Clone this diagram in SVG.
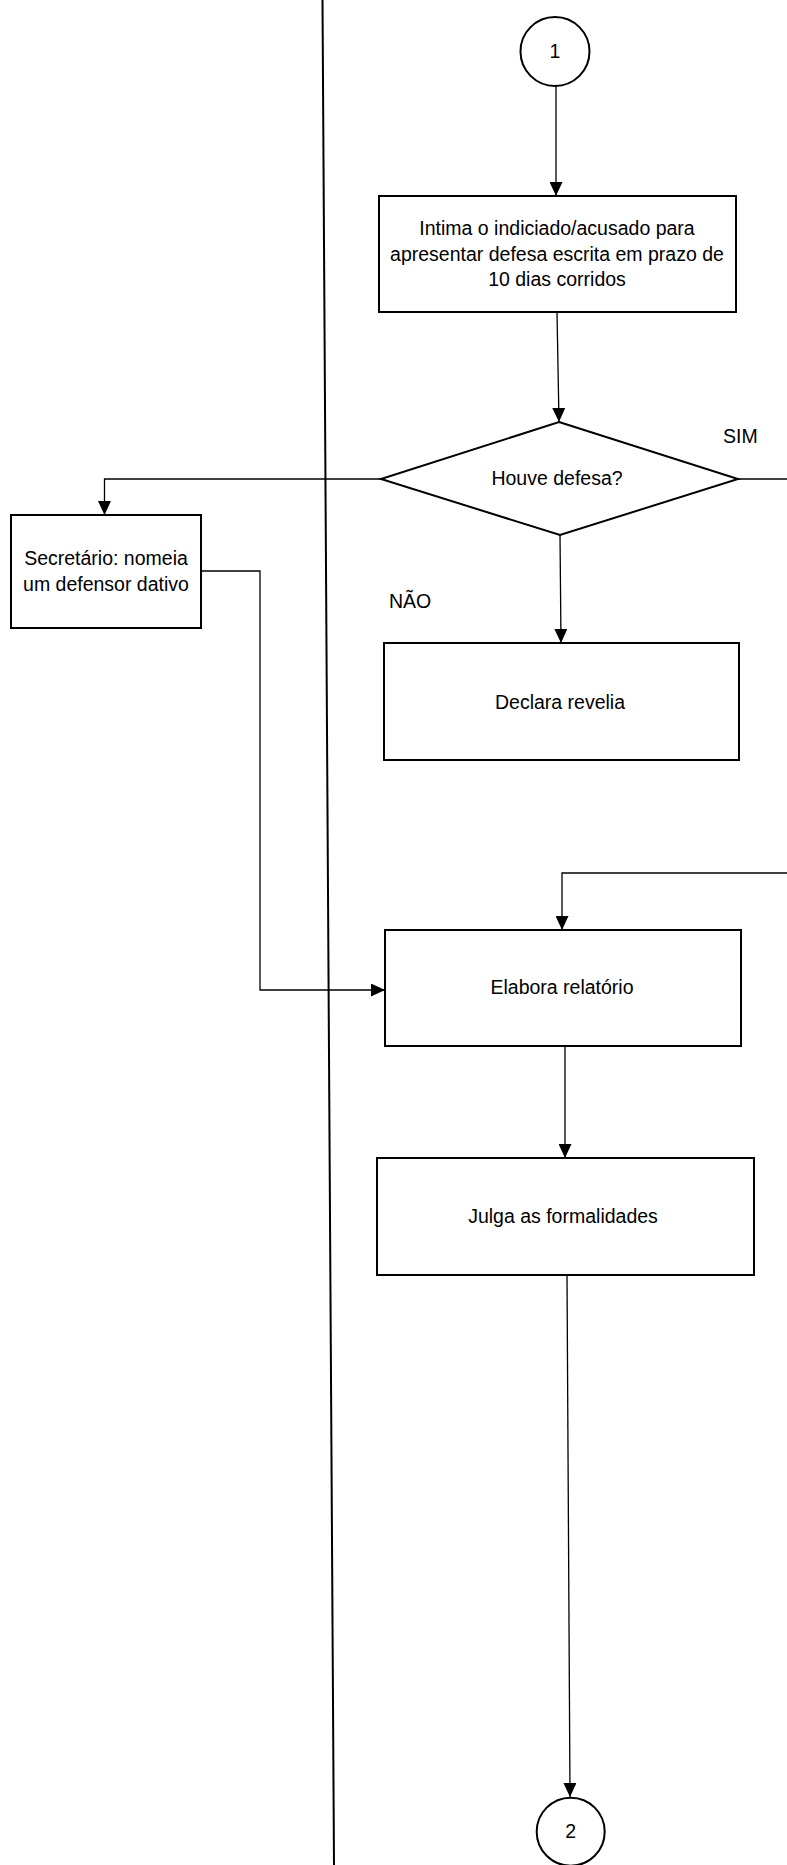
<svg xmlns="http://www.w3.org/2000/svg" width="787" height="1865" viewBox="0 0 787 1865">
<style>
.box{fill:#fff;stroke:#000;stroke-width:2}
.conn{fill:none;stroke:#000;stroke-width:1.3}
.t{font-family:"Liberation Sans",Arial,sans-serif;font-size:19.5px;fill:#000;text-anchor:middle}
.lbl{font-family:"Liberation Sans",Arial,sans-serif;font-size:19.5px;fill:#000}
</style>
<defs>
<marker id="arr" viewBox="0 0 14 13" refX="14" refY="6.5" markerWidth="14" markerHeight="13" markerUnits="userSpaceOnUse" orient="auto">
<path d="M0,0 L14,6.5 L0,13 Z" fill="#000"/>
</marker>
</defs>
<rect x="0" y="0" width="787" height="1865" fill="#fff"/>
<line id="lane" x1="322.5" y1="0" x2="334" y2="1865" stroke="#000" stroke-width="2"/>
<g id="connectors">
<path class="conn" d="M556,86 L556,196" marker-end="url(#arr)"/>
<path class="conn" d="M557,312 L559,422" marker-end="url(#arr)"/>
<path class="conn" d="M381,479 L104.5,479 L104.5,515" marker-end="url(#arr)"/>
<path class="conn" d="M560,535 L561,643" marker-end="url(#arr)"/>
<path class="conn" d="M738,479 L787,479"/>
<path class="conn" d="M787,873 L562,873 L562,930" marker-end="url(#arr)"/>
<path class="conn" d="M201,571 L260,571 L260,990 L385,990" marker-end="url(#arr)"/>
<path class="conn" d="M565,1046 L565,1158" marker-end="url(#arr)"/>
<path class="conn" d="M567,1275 L570,1797" marker-end="url(#arr)"/>
</g>
<g id="start1">
<circle cx="555" cy="51.5" r="34.5" fill="#fff" stroke="#000" stroke-width="2"/>
<text class="t" x="555" y="58">1</text>
</g>
<g id="intima">
<rect class="box" x="379" y="196" width="357" height="116"/>
<text class="t" x="557" y="235">Intima o indiciado/acusado para</text>
<text class="t" x="557" y="260.5">apresentar defesa escrita em prazo de</text>
<text class="t" x="557" y="286">10 dias corridos</text>
</g>
<g id="decisao">
<polygon points="559,422 738,479 560,535 381,479" fill="#fff" stroke="#000" stroke-width="2"/>
<text class="t" x="557" y="485">Houve defesa?</text>
</g>
<g id="lbl-sim"><text class="lbl" x="723" y="443">SIM</text></g>
<g id="lbl-nao"><text class="lbl" x="389" y="608">NÃO</text></g>
<g id="secretario">
<rect class="box" x="11" y="515" width="190" height="113"/>
<text class="t" x="106" y="565">Secretário: nomeia</text>
<text class="t" x="106" y="591">um defensor dativo</text>
</g>
<g id="revelia">
<rect class="box" x="384" y="643" width="355" height="117"/>
<text class="t" x="560" y="709">Declara revelia</text>
</g>
<g id="relatorio">
<rect class="box" x="385" y="930" width="356" height="116"/>
<text class="t" x="562" y="994">Elabora relatório</text>
</g>
<g id="julga">
<rect class="box" x="377" y="1158" width="377" height="117"/>
<text class="t" x="563" y="1223">Julga as formalidades</text>
</g>
<g id="end2">
<circle cx="570.7" cy="1831.7" r="34" fill="#fff" stroke="#000" stroke-width="2"/>
<text class="t" x="570.7" y="1838">2</text>
</g>
</svg>
